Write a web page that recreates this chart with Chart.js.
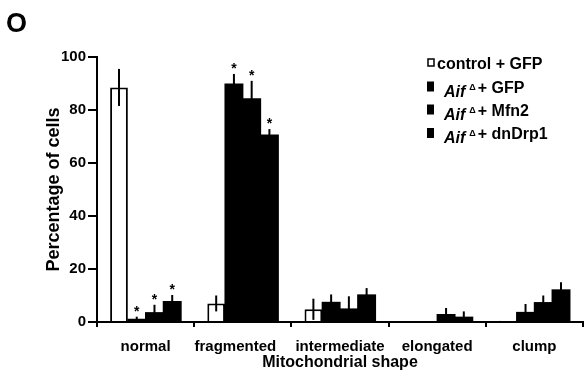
<!DOCTYPE html>
<html>
<head>
<meta charset="utf-8">
<script src="https://cdn.jsdelivr.net/npm/chart.js@4"></script>
<style>
  html, body { margin: 0; padding: 0; background: #fff; }
</style>
</head>
<body>
<canvas id="bar-chart" width="584" height="382"></canvas>
<script>
const categories = ['normal', 'fragmented', 'intermediate', 'elongated', 'clump']
const seriesNames = ['control + GFP', 'Aif\u0394 + GFP', 'Aif\u0394 + Mfn2', 'Aif\u0394 + dnDrp1']

const controlGfp = [88.5, 7, 4.8, 0, 0.5]
const aifGfp = [1, 89.8, 7.4, 0, 3.6]
const aifMfn2 = [3.5, 84.2, 4.9, 2.8, 7.3]
const aifDrp1 = [7.7, 70.5, 10.2, 1.8, 12.1]

const controlGfpErr = [7, 3, 4, 0, 0]
const aifGfpErr = [1, 3.8, 3, 0, 3.2]
const aifMfn2Err = [3, 6.8, 4.8, 2.5, 2.7]
const aifDrp1Err = [2.5, 2.3, 2.6, 2.2, 2.9]

// significance stars (true = '*' above the bar)
const aifGfpStar = [true, true, false, false, false]
const aifMfn2Star = [true, true, false, false, false]
const aifDrp1Star = [true, true, false, false, false]

const yTicks = [0, 20, 40, 60, 80, 100]

const FONT = '"Liberation Sans", Arial, sans-serif'

const errorBars = {
  id: 'errorBars',
  afterDatasetsDraw(chart) {
    const ctx = chart.ctx
    const y = chart.scales.y
    chart.data.datasets.forEach((ds, i) => {
      const meta = chart.getDatasetMeta(i)
      meta.data.forEach((bar, j) => {
        const v = ds.data[j]
        const e = ds.err[j]
        const top = y.getPixelForValue(v + e)
        const bot = y.getPixelForValue(Math.max(0, v - e))
        ctx.save()
        if (e > 0) {
          ctx.strokeStyle = '#000'
          ctx.lineWidth = 2
          ctx.beginPath()
          ctx.moveTo(bar.x, top)
          ctx.lineTo(bar.x, bot)
          ctx.stroke()
        }
        if (ds.star && ds.star[j]) {
          ctx.fillStyle = '#000'
          ctx.font = 'bold 14px ' + FONT
          ctx.textAlign = 'center'
          ctx.textBaseline = 'alphabetic'
          ctx.fillText('*', bar.x, top - 1)
        }
        ctx.restore()
      })
    })
  }
}

const extras = {
  id: 'extras',
  afterDraw(chart) {
    const ctx = chart.ctx
    ctx.save()
    ctx.fillStyle = '#000'
    ctx.textBaseline = 'alphabetic'
    ctx.font = 'bold 27px ' + FONT
    ctx.fillText('O', 6, 32)

    // legend
    const rows = [62.5, 86.5, 109.5, 133]
    chart.data.datasets.forEach((ds, i) => {
      const cy = rows[i]
      ctx.lineWidth = 1.5
      if (ds.backgroundColor === '#fff') {
        ctx.fillStyle = '#fff'
        ctx.fillRect(428, cy - 3.5, 6, 7)
        ctx.strokeStyle = '#000'
        ctx.strokeRect(428, cy - 3.5, 6, 7)
      } else {
        ctx.fillStyle = '#000'
        ctx.fillRect(427, cy - 5, 7, 10)
      }
      ctx.fillStyle = '#000'
      const base = cy + 6
      let x = 437
      let label = ds.label
      if (label.startsWith('Aif\u0394')) {
        x = 444
        ctx.font = 'italic bold 16px ' + FONT
        ctx.fillText('Aif', x, base + 4)
        x += ctx.measureText('Aif').width + 4
        ctx.font = 'bold 9px ' + FONT
        ctx.fillText('\u0394', x, base - 3)
        x += ctx.measureText('\u0394').width + 2
        label = label.slice(5)
      }
      ctx.font = 'bold 16px ' + FONT
      ctx.fillText(label, x, base)
    })
    ctx.restore()
  }
}

const ctx2 = document.getElementById('bar-chart').getContext('2d')
const myChart = new Chart(ctx2, {
  type: 'bar',
  data: {
    labels: categories,
    datasets: [
      { label: seriesNames[0], data: controlGfp, err: controlGfpErr, backgroundColor: '#fff', borderColor: '#000', borderWidth: 2, inflateAmount: 0 },
      { label: seriesNames[1], data: aifGfp, err: aifGfpErr, star: aifGfpStar, backgroundColor: '#000', borderColor: '#000', borderWidth: 0, inflateAmount: 0.6 },
      { label: seriesNames[2], data: aifMfn2, err: aifMfn2Err, star: aifMfn2Star, backgroundColor: '#000', borderColor: '#000', borderWidth: 0, inflateAmount: 0.6 },
      { label: seriesNames[3], data: aifDrp1, err: aifDrp1Err, star: aifDrp1Star, backgroundColor: '#000', borderColor: '#000', borderWidth: 0, inflateAmount: 0.6 },
    ],
  },
  options: {
    responsive: false,
    animation: false,
    devicePixelRatio: 1,
    layout: { padding: { top: 57, right: 1, left: 0, bottom: 0 } },
    datasets: { bar: { categoryPercentage: 0.73, barPercentage: 1 } },
    plugins: { legend: { display: false }, tooltip: { enabled: false } },
    scales: {
      x: {
        afterFit(scale) { scale.height = 60 },
        grid: { offset: true, drawOnChartArea: false, drawTicks: true, tickLength: 5, color: '#000', lineWidth: 2 },
        border: { color: '#000', width: 2 },
        ticks: {
          color: '#000',
          padding: 11,
          autoSkip: false,
          font: { family: FONT, size: 15, weight: 'bold' },
          maxRotation: 0,
          // 'fragmented' sits a little left of its group in the original
          callback: (v, i) => i === 1 ? categories[i] + '\u2002\u2002' : categories[i],
        },
        title: { display: true, text: 'Mitochondrial shape', color: '#000', font: { family: FONT, size: 16, weight: 'bold' }, padding: { top: 0, bottom: 10 } },
      },
      y: {
        min: 0,
        max: 100,
        afterFit(scale) { scale.width = 97 },
        afterBuildTicks(scale) { scale.ticks = yTicks.map(v => ({ value: v })) },
        grid: { drawOnChartArea: false, drawTicks: true, tickLength: 9, color: '#000', lineWidth: 2 },
        border: { color: '#000', width: 2 },
        ticks: { color: '#000', padding: 2, font: { family: FONT, size: 15, weight: 'bold' } },
        title: { display: true, text: 'Percentage of cells', color: '#000', font: { family: FONT, size: 18, weight: 'bold' }, padding: { top: 43 } },
      },
    },
  },
  plugins: [errorBars, extras],
})
</script>
</body>
</html>
